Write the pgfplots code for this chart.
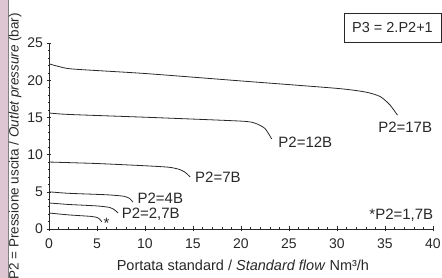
\documentclass[border=0pt]{standalone}
\usepackage{pgfplots}
\pgfplotsset{compat=1.18}
\usepackage{fontspec}
\setmainfont{Liberation Sans}
\definecolor{strip}{RGB}{222,198,210}
\definecolor{ink}{RGB}{40,40,40}
\begin{document}
\begin{tikzpicture}[x=1pt,y=1pt]
\path[use as bounding box] (0,0) rectangle (442,278);
\fill[strip] (0,0) rectangle (8,278);
\draw[gray,line width=0.4pt] (8,0) -- (8,278);
\begin{axis}[
  at={(49pt,49pt)}, anchor=south west,
  scale only axis, width=384pt, height=186pt,
  xmin=0, xmax=40, ymin=0, ymax=25,
  axis x line*=bottom, axis y line*=left,
  axis line style={ink, line width=0.6pt},
  xtick={0,5,...,40}, ytick={0,5,...,25},
  minor x tick num=4, minor y tick num=4,
  tick align=center,
  major tick length=5pt, minor tick length=3pt,
  tick style={ink, line width=0.5pt},
  every tick label/.append style={font=\fontsize{14}{16}\selectfont, text=ink},
  /pgf/number format/assume math mode=true,
  xticklabel style={yshift=-3.5pt},
  yticklabel style={xshift=0pt},
  xlabel={Portata standard / \textit{Standard flow} Nm³/h},
  ylabel={P2 = Pressione uscita / \textit{Outlet pressure} (bar)},
  xlabel style={font=\fontsize{14.5}{16}\selectfont, text=ink, at={(axis description cs:0.505,-0.196)}, anchor=center},
  ylabel style={font=\fontsize{13.5}{15}\selectfont, text=ink, at={(axis description cs:-0.0885,0.444)}, anchor=center, rotate=0},
  clip=false,
  crv/.style={ink, line width=0.8pt, mark=none, smooth, tension=0.4},
]
% P2=17B
\addplot[crv] coordinates {(0,22.2) (1,21.85) (2.5,21.5) (10,20.9) (20,19.9) (30,18.9) (33,18.4) (34.5,17.8) (35.5,16.7) (36.3,15.3)};
% P2=12B
\addplot[crv] coordinates {(0,15.6) (2,15.4) (10.5,15.0) (20,14.5) (21.5,14.2) (22.5,13.5) (23.2,12.1)};
% P2=7B
\addplot[crv] coordinates {(0,9.0) (5,8.8) (10,8.5) (12.5,8.3) (13.6,8.0) (14.2,7.6) (14.7,7.0)};
% P2=4B
\addplot[crv] coordinates {(0,5.0) (2,4.8) (6,4.6) (7.8,4.4) (8.4,4.1) (8.75,3.6)};
% P2=2,7B
\addplot[crv] coordinates {(0,3.5) (2,3.3) (5,3.1) (6.3,2.9) (6.8,2.6) (7.2,2.15)};
% P2=1,7B
\addplot[crv] coordinates {(0,2.15) (2,1.9) (4.3,1.7) (5.0,1.55) (5.3,1.3) (5.5,0.95)};
\begin{scope}[every node/.style={font=\fontsize{15}{17}\selectfont, text=ink, inner sep=0pt}]
\node at (axis cs:37.1,13.7) {P2=17B};
\node at (axis cs:26.7,11.7) {P2=12B};
\node at (axis cs:17.6,7.0) {P2=7B};
\node at (axis cs:11.6,4.15) {P2=4B};
\node at (axis cs:10.6,2.05) {P2=2,7B};
\node at (axis cs:36.7,1.9) {*P2=1,7B};
\node at (axis cs:6.0,0.8) {*};
\node[draw=ink, line width=0.6pt, minimum width=97pt, minimum height=29pt, inner sep=2pt, font=\fontsize{14.5}{16}\selectfont] at (axis cs:35.78,27.08) {P3 = 2.P2+1};
\end{scope}
\end{axis}
\end{tikzpicture}
\end{document}
